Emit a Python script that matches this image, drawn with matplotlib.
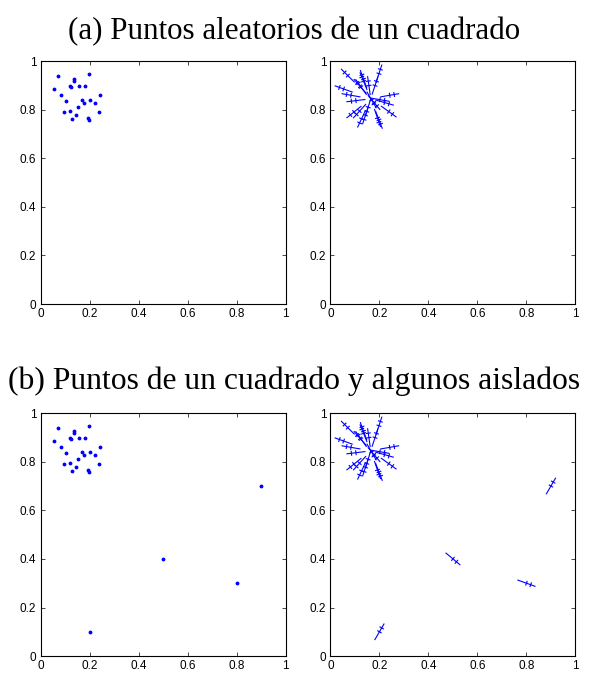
import numpy as np
import matplotlib.pyplot as plt

# points sampled in the square
sq_x = [0.071, 0.135, 0.135, 0.198, 0.054, 0.121, 0.157, 0.182, 0.084, 0.104,
        0.168, 0.178, 0.202, 0.221, 0.242, 0.154, 0.096, 0.119, 0.143, 0.238,
        0.127, 0.192, 0.198, 0.125]
sq_y = [0.940, 0.926, 0.917, 0.948, 0.885, 0.896, 0.899, 0.899, 0.859, 0.837,
        0.840, 0.829, 0.841, 0.829, 0.859, 0.810, 0.790, 0.794, 0.777, 0.792,
        0.762, 0.766, 0.758, 0.893]
# orientation of each point (degrees)
sq_ang = [135, 110, 112, 72, 160, 131, 98, 72, 170, 187,
          -60, -50, -10, -16, 10, -107, -141, -132, -108, -36,
          -115, -71, -69, 125]

# isolated points
iso_x = [0.2, 0.5, 0.8, 0.9]
iso_y = [0.1, 0.4, 0.3, 0.7]
iso_ang = [60, -40, -20, 60]

titles = ['(a) Puntos aleatorios de un cuadrado',
          '(b) Puntos de un cuadrado y algunos aislados']
ticks = [0, 0.2, 0.4, 0.6, 0.8, 1]
tick_labels = ['0', '0.2', '0.4', '0.6', '0.8', '1']

plt.rcParams['font.family'] = ['Liberation Sans', 'DejaVu Sans']

fig = plt.figure(figsize=(5.89, 6.75), dpi=100)

def style(ax):
    ax.set_xlim(0, 1)
    ax.set_ylim(0, 1)
    ax.set_xticks(ticks)
    ax.set_yticks(ticks)
    ax.set_xticklabels(tick_labels)
    ax.set_yticklabels(tick_labels)
    ax.tick_params(direction='in', length=3, width=0.5, labelsize=8.5,
                   top=True, right=True, pad=3)
    for s in ax.spines.values():
        s.set_linewidth(0.8)

def draw_dirs(ax, xs, ys, angs, L=0.037, t=0.008):
    # line along the orientation, with short cross strokes
    for x, y, a in zip(xs, ys, angs):
        r = np.deg2rad(a)
        dx, dy = np.cos(r), np.sin(r)
        ax.plot([x - L * dx, x + L * dx], [y - L * dy, y + L * dy],
                color='blue', lw=0.8)
        for off in (0.0, 0.5):
            cx, cy = x + off * L * dx, y + off * L * dy
            ax.plot([cx - t * dy, cx + t * dy], [cy + t * dx, cy - t * dx],
                    color='blue', lw=0.8)

w, h = 0.416, 0.36
axes = [
    fig.add_axes([0.0688, 0.5496, w, h]),
    fig.add_axes([0.561, 0.5496, w, h]),
    fig.add_axes([0.0688, 0.028, w, h]),
    fig.add_axes([0.561, 0.028, w, h]),
]

all_x = sq_x + iso_x
all_y = sq_y + iso_y
all_ang = sq_ang + iso_ang

axes[0].plot(sq_x, sq_y, '.', color='blue', ms=3.5)
draw_dirs(axes[1], sq_x, sq_y, sq_ang)
axes[2].plot(all_x, all_y, '.', color='blue', ms=3.5)
draw_dirs(axes[3], all_x, all_y, all_ang)

for ax in axes:
    style(ax)

fig.text(0.5, 0.953, titles[0], ha='center', va='center',
         family='Liberation Serif', fontsize=22.3)
fig.text(0.5, 0.435, titles[1], ha='center', va='center',
         family='Liberation Serif', fontsize=22.8)

fig.savefig('out.png', dpi=100)
